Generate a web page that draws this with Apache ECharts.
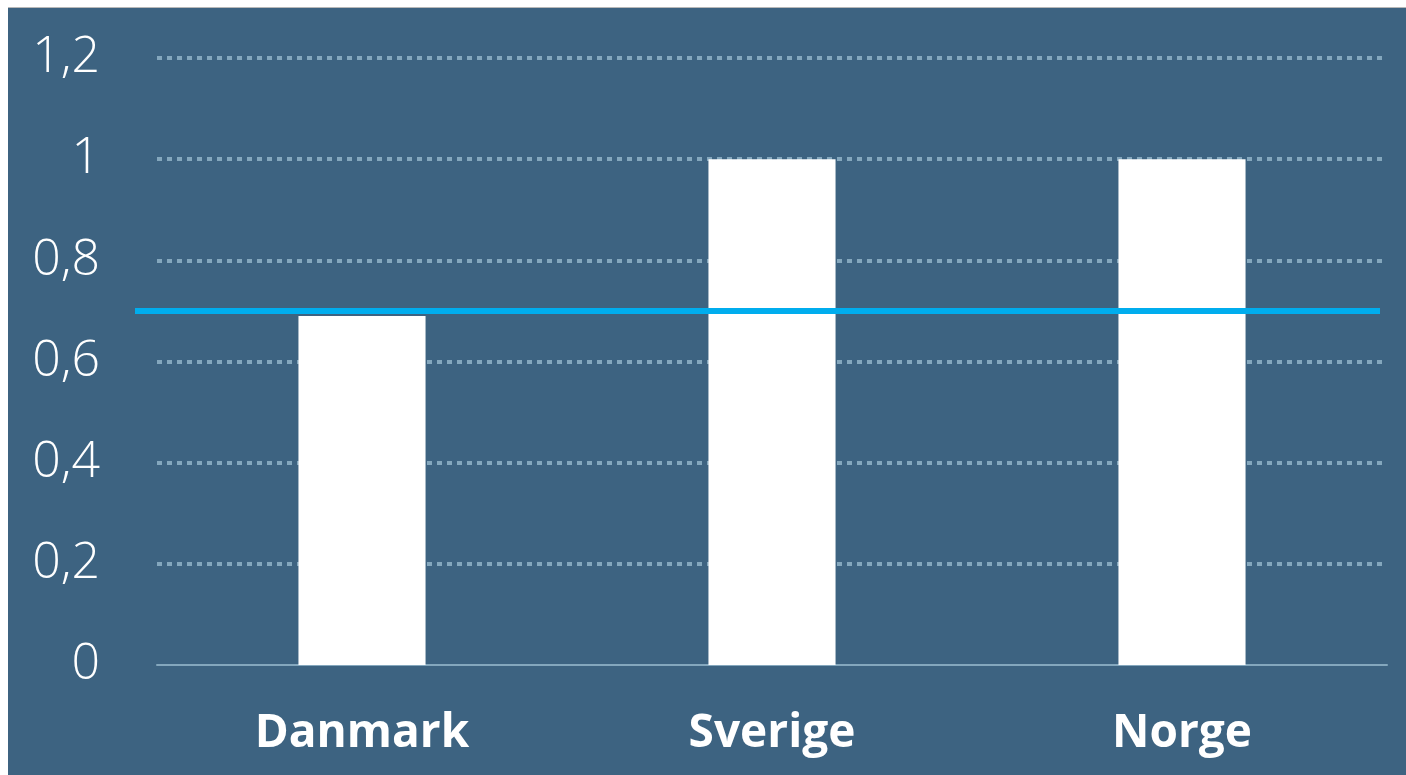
<!DOCTYPE html>
<html>
<head>
<meta charset="utf-8">
<script src="https://cdn.jsdelivr.net/npm/echarts@6/dist/echarts.min.js"></script>
<style>
  html, body { margin: 0; padding: 0; background: #fff; }
  #chart {
    position: absolute;
    left: 8px;
    top: 7px;
    width: 1398px;
    height: 768px;
    border-top: 1px solid #b8b8b8;
    background: #3d6381;
  }
</style>
</head>
<body>
<div id="chart"></div>
<script>
const categories = ['Danmark', 'Sverige', 'Norge']
const values = [0.69, 1, 1]
const targetValue = 0.7
const yTicks = [0, 0.2, 0.4, 0.6, 0.8, 1, 1.2]

const fontColor = '#ffffff'
const gridColor = '#84a7bd'

const myChart = echarts.init(document.getElementById('chart'))

myChart.setOption({
  animation: false,
  grid: {
    top: 50,
    left: 149,
    right: 19,
    bottom: 111
  },
  xAxis: {
    type: 'category',
    data: categories,
    axisTick: { show: false },
    axisLine: { lineStyle: { color: gridColor, width: 2 } },
    axisLabel: {
      color: fontColor,
      fontFamily: 'Open Sans',
      fontWeight: 'bold',
      fontSize: 46,
      margin: 46
    }
  },
  yAxis: {
    type: 'value',
    min: yTicks[0],
    max: yTicks[yTicks.length - 1],
    interval: 0.2,
    axisLine: { show: false },
    axisTick: { show: false },
    axisLabel: {
      color: fontColor,
      fontFamily: 'Open Sans',
      fontWeight: 300,
      fontSize: 50,
      margin: 57,
      formatter: (value) => String(Math.round(value * 10) / 10).replace('.', ',')
    },
    splitLine: {
      showMinLine: false,
      lineStyle: { color: gridColor, width: 4, type: [5, 5] }
    }
  },
  series: [
    {
      type: 'bar',
      data: values,
      barWidth: '31%',
      itemStyle: { color: '#ffffff' },
      markLine: {
        silent: true,
        symbol: 'none',
        label: { show: false },
        lineStyle: { color: '#00adee', width: 6, type: 'solid' },
        data: [
          [
            { x: 127, yAxis: targetValue },
            { x: 1372, yAxis: targetValue }
          ]
        ]
      }
    }
  ]
})
</script>
</body>
</html>
